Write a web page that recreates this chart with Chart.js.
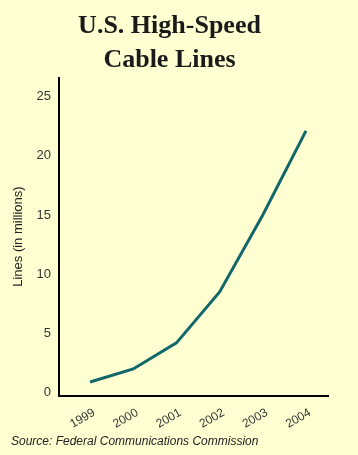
<!DOCTYPE html>
<html>
<head>
<meta charset="utf-8">
<script src="https://cdn.jsdelivr.net/npm/chart.js@4.4.0/dist/chart.umd.min.js"></script>
<style>
  html, body { margin: 0; padding: 0; background: #FFFFD2; }
  #wrap { width: 358px; height: 455px; }
</style>
</head>
<body>
<div id="wrap"><canvas id="chart"></canvas></div>
<script>
// data
const years = [1999, 2000, 2001, 2002, 2003, 2004]
const lines = [0.9, 2.0, 4.2, 8.5, 15.0, 22.1]   // millions
const yTicks = [0, 5, 10, 15, 20, 25]

const ctx = document.getElementById('chart').getContext('2d')

new Chart(ctx, {
  type: 'line',
  data: {
    datasets: [{
      label: 'Lines',
      data: years.map((y, i) => ({ x: y, y: lines[i] })),
      borderColor: '#12676A',
      borderWidth: 3,
      pointRadius: 0,
      tension: 0,
      fill: false
    }]
  },
  options: {
    responsive: true,
    maintainAspectRatio: false,
    animation: false,
    layout: { padding: { left: 11, right: 30, top: 0, bottom: 0 } },
    plugins: {
      legend: { display: false },
      tooltip: { enabled: false },
      title: {
        display: true,
        text: ['U.S. High-Speed', 'Cable Lines'],
        color: '#1a1a1a',
        font: { family: 'Liberation Serif', size: 26, weight: 'bold', lineHeight: 1.28 },
        padding: { top: 10, bottom: 1 }
      },
      subtitle: {
        display: true,
        position: 'bottom',
        align: 'start',
        text: 'Source: Federal Communications Commission',
        color: '#222',
        font: { family: 'Liberation Sans', size: 12, style: 'italic' },
        padding: { top: 0, bottom: 6 }
      }
    },
    scales: {
      x: {
        type: 'linear',
        min: 1998.28,
        max: 2004.51,
        afterBuildTicks: axis => { axis.ticks = years.map(v => ({ value: v })) },
        afterFit: axis => { axis.height = 39 },
        grid: { display: false, drawTicks: false },
        border: { display: true, color: '#000', width: 2 },
        ticks: {
          color: '#333',
          font: { family: 'Liberation Sans', size: 12 },
          maxRotation: 30,
          minRotation: 30,
          padding: 10,
          labelOffset: 4,
          callback: v => String(v)
        }
      },
      y: {
        min: -0.25,
        max: 26.6,
        afterBuildTicks: axis => { axis.ticks = yTicks.map(v => ({ value: v })) },
        afterFit: axis => { axis.width = 48 },
        grid: { display: false, drawTicks: false },
        border: { display: true, color: '#000', width: 2 },
        ticks: {
          color: '#333',
          font: { family: 'Liberation Sans', size: 13 },
          padding: 8
        },
        title: {
          display: true,
          text: 'Lines (in millions)',
          color: '#222',
          font: { family: 'Liberation Sans', size: 13 },
          padding: { top: 0, bottom: 0 }
        }
      }
    }
  }
})
</script>
</body>
</html>
